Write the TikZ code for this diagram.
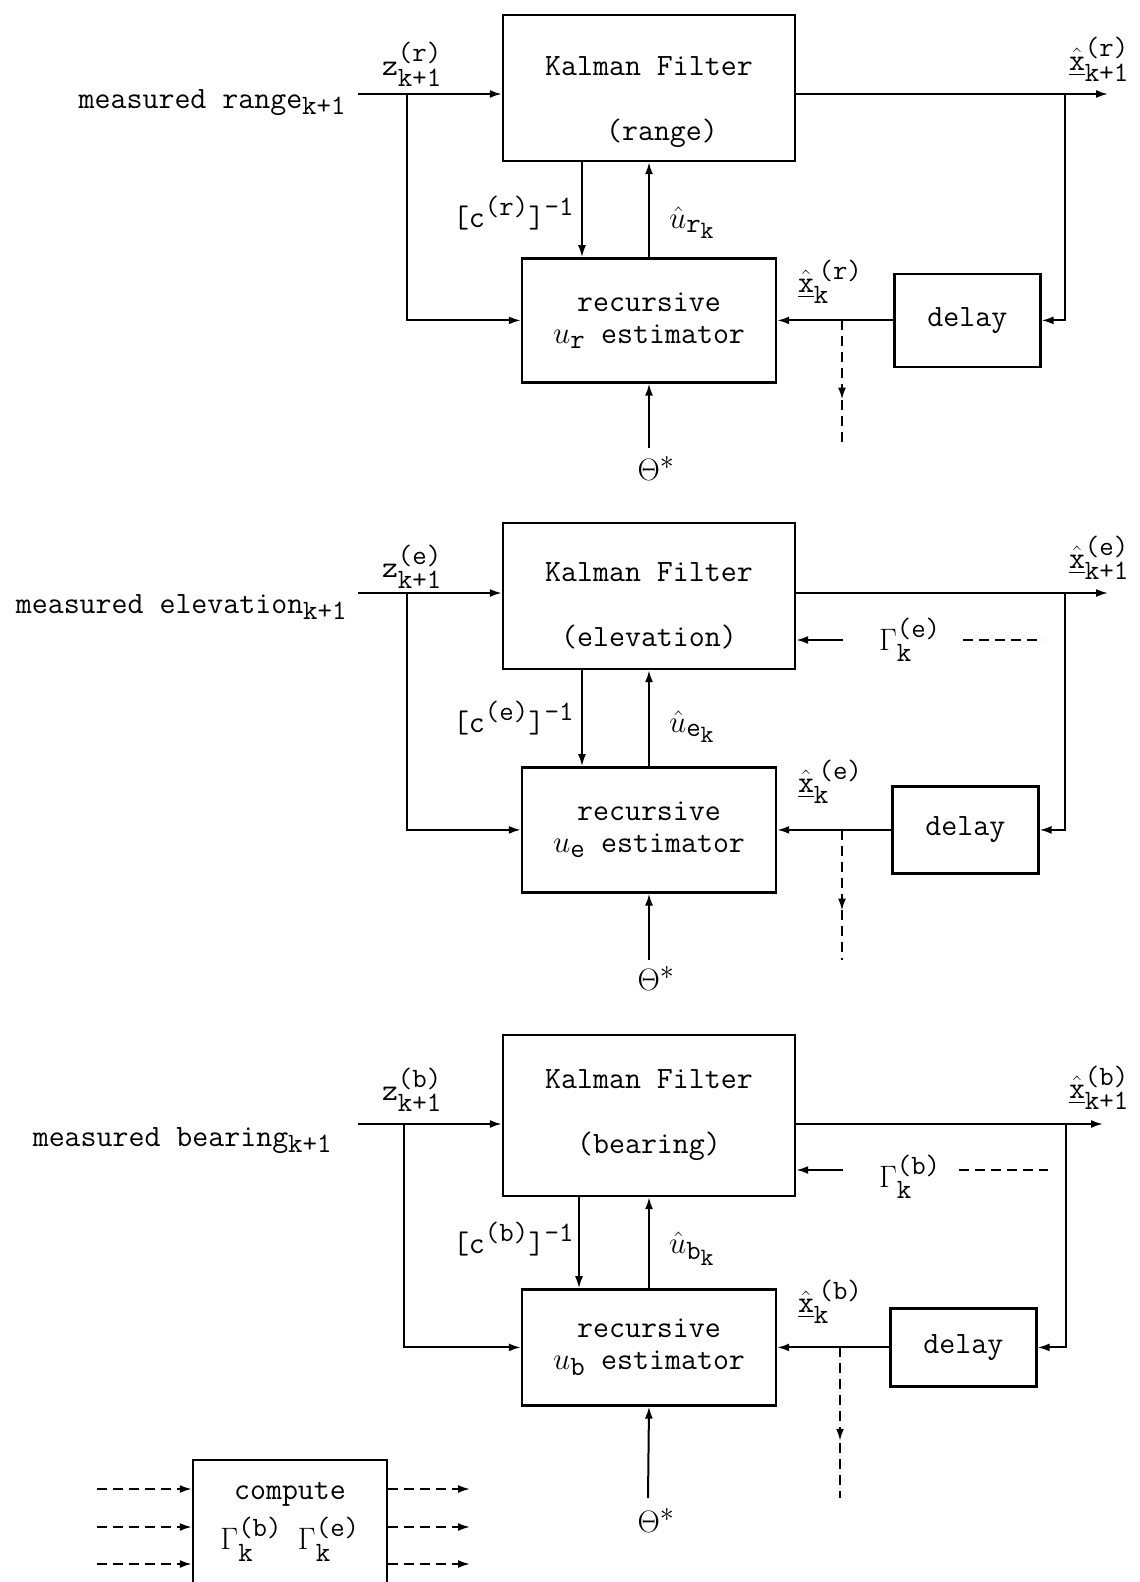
\RequirePackage{fix-cm}
\documentclass[tikz,border=0pt]{standalone}
\usepackage{amsmath, amssymb}
\usetikzlibrary{positioning, arrows.meta, calc, decorations.markings}
\DeclareMathSizes{31}{31}{28}{25}

\begin{document}
\begin{tikzpicture}[
    x=1pt, y=-1pt, line width=2pt,
    node distance=95pt and 115pt,
    every node/.style={font=\fontsize{31}{35}\selectfont\ttfamily},
    box/.style={draw, line width=2.4pt, align=center, inner sep=0pt},
    kalman/.style={box, minimum width=292pt},
    estim/.style={box, minimum width=254pt},
    delaybox/.style={box, minimum width=146pt},
    lbl/.style={inner sep=0pt},
    arr/.style={-{Latex[length=12pt, width=8pt]}},
    dashwire/.style={dash pattern=on 10pt off 6pt},
    midarr/.style={dashwire, decoration={markings,
        mark=at position 0.62 with {\arrow{Latex[length=12pt, width=8pt]}}},
        postaction=decorate}
  ]
    \useasboundingbox (0,0) rectangle (1140,1582);

    % range
    \node[kalman, minimum height=146pt] (kfr) at (649,88) {\rule{0pt}{48pt}Kalman Filter\\[30pt]\hspace*{26pt}(range)};
    \node[estim, minimum height=124pt, below=of kfr] (estr) {recursive\\[-3pt]$u_{\text{r}}$ estimator};
    \node[delaybox, minimum height=93pt, right=116pt of estr] (dlyr) {delay};

    \node[lbl, anchor=base east] (mrr) at (347,108) {measured range$_{\text{k+1}}$};
    \node[lbl, anchor=base west] (zr) at (381,75) {$\text{z}^{\text{(r)}}_{\text{k+1}}$};
    \node[lbl, anchor=base east] (cr) at (575,227) {$\text{[c}^{\text{(r)}}\text{]}^{\text{-1}}$};
    \node[lbl, anchor=base west] (ur) at (668,228) {$\hat{u}_{\text{r}_{\text{k}}}$};
    \node[lbl, anchor=base west] (xor) at (1068,70) {$\underline{\hat{\text{x}}}^{\text{(r)}}_{\text{k+1}}$};
    \node[lbl, anchor=base west] (xkr) at (797,292) {$\underline{\hat{\text{x}}}^{\,\text{(r)}}_{\text{k}}$};
    \node[lbl, anchor=north] (thlr) at (656,455) {$\Theta^{*}$};

    \coordinate (inr) at (358,94);
    \coordinate (brr) at (407,94);
    \coordinate (tapr) at (1065,94);
    \coordinate (outr) at (1108,94);
    \coordinate (dnr) at (842,448);
    \coordinate (thr) at (649,448);

    \draw[arr] (inr) -- (inr -| kfr.west);
    \draw[arr] (brr) |- (estr.west);
    \draw[arr] (kfr.east |- outr) -- (outr);
    \draw[arr] (tapr) |- (dlyr.east);
    \draw[arr] (dlyr.west) -- (estr.east);
    \draw[arr] ([xshift=-67pt]kfr.south) -- ([xshift=-67pt]estr.north);
    \draw[arr] (estr.north) -- (kfr.south);
    \draw[arr] (thr) -- (estr.south);
    \draw[midarr] (dnr |- estr.east) -- (dnr);

    % elevation
    \node[kalman, minimum height=146pt] (kfe) at (649,596) {\rule{0pt}{38pt}Kalman Filter\\[30pt](elevation)};
    \node[estim, minimum height=125pt, below=96pt of kfe] (este) {recursive\\[-3pt]$u_{\text{e}}$ estimator};
    \node[delaybox, minimum height=87pt, right=114pt of este] (dlye) {delay};

    \node[lbl, anchor=base east] (mre) at (348,613) {measured elevation$_{\text{k+1}}$};
    \node[lbl, anchor=base west] (ze) at (381,577) {$\text{z}^{\text{(e)}}_{\text{k+1}}$};
    \node[lbl, anchor=base east] (ce) at (575,732) {$\text{[c}^{\text{(e)}}\text{]}^{\text{-1}}$};
    \node[lbl, anchor=base west] (ue) at (668,732) {$\hat{u}_{\text{e}_{\text{k}}}$};
    \node[lbl, anchor=base west] (xoe) at (1068,568) {$\underline{\hat{\text{x}}}^{\text{(e)}}_{\text{k+1}}$};
    \node[lbl, anchor=base west] (xke) at (797,792) {$\underline{\hat{\text{x}}}^{\,\text{(e)}}_{\text{k}}$};
    \node[lbl, anchor=base west] (gme) at (878,650) {$\Gamma^{\text{(e)}}_{\text{k}}$};
    \node[lbl, anchor=north] (thle) at (656,965) {$\Theta^{*}$};

    \coordinate (ine) at (358,593);
    \coordinate (bre) at (407,593);
    \coordinate (tape) at (1065,593);
    \coordinate (oute) at (1108,593);
    \coordinate (dne) at (842,960);
    \coordinate (the) at (649,960);
    \coordinate (gae) at (843,640);
    \coordinate (gd1e) at (963,640);
    \coordinate (gd2e) at (1043,640);

    \draw[arr] (ine) -- (ine -| kfe.west);
    \draw[arr] (bre) |- (este.west);
    \draw[arr] (kfe.east |- oute) -- (oute);
    \draw[arr] (tape) |- (dlye.east);
    \draw[arr] (dlye.west) -- (este.east);
    \draw[arr] ([xshift=-67pt]kfe.south) -- ([xshift=-67pt]este.north);
    \draw[arr] (este.north) -- (kfe.south);
    \draw[arr] (the) -- (este.south);
    \draw[midarr] (dne |- este.east) -- (dne);
    \draw[arr] (gae) -- (gae -| kfe.east);
    \draw[dashwire] (gd1e) -- (gd2e);

    % bearing
    \node[kalman, minimum height=161pt] (kfb) at (649,1115.5) {Kalman Filter\\[30pt](bearing)};
    \node[estim, minimum height=116pt, below=91pt of kfb] (estb) {recursive\\[-3pt]$u_{\text{b}}$ estimator};
    \node[delaybox, minimum height=78pt, right=112pt of estb] (dlyb) {delay};

    \node[lbl, anchor=base east] (mrb) at (333,1146) {measured bearing$_{\text{k+1}}$};
    \node[lbl, anchor=base west] (zb) at (381,1100) {$\text{z}^{\text{(b)}}_{\text{k+1}}$};
    \node[lbl, anchor=base east] (cb) at (575,1253) {$\text{[c}^{\text{(b)}}\text{]}^{\text{-1}}$};
    \node[lbl, anchor=base west] (ub) at (668,1253) {$\hat{u}_{\text{b}_{\text{k}}}$};
    \node[lbl, anchor=base west] (xob) at (1068,1098) {$\underline{\hat{\text{x}}}^{\text{(b)}}_{\text{k+1}}$};
    \node[lbl, anchor=base west] (xkb) at (797,1312) {$\underline{\hat{\text{x}}}^{\,\text{(b)}}_{\text{k}}$};
    \node[lbl, anchor=base west] (gmb) at (878,1187) {$\Gamma^{\text{(b)}}_{\text{k}}$};
    \node[lbl, anchor=north] (thlb) at (656,1507) {$\Theta^{*}$};

    \coordinate (inb) at (358,1124);
    \coordinate (brb) at (404,1124);
    \coordinate (tapb) at (1066,1124);
    \coordinate (outb) at (1103,1124);
    \coordinate (dnb) at (840,1498);
    \coordinate (thb) at (648,1498);
    \coordinate (gab) at (843,1170);
    \coordinate (gd1b) at (959,1170);
    \coordinate (gd2b) at (1048,1170);

    \draw[arr] (inb) -- (inb -| kfb.west);
    \draw[arr] (brb) |- (estb.west);
    \draw[arr] (kfb.east |- outb) -- (outb);
    \draw[arr] (tapb) |- (dlyb.east);
    \draw[arr] (dlyb.west) -- (estb.east);
    \draw[arr] ([xshift=-70pt]kfb.south) -- ([xshift=-70pt]estb.north);
    \draw[arr] (estb.north) -- (kfb.south);
    \draw[arr] (thb) -- (estb.south);
    \draw[midarr] (dnb |- estb.east) -- (dnb);
    \draw[arr] (gab) -- (gab -| kfb.east);
    \draw[dashwire] (gd1b) -- (gd2b);

    % compute box, runs off the page
    \node[box, anchor=north, minimum width=194pt, inner xsep=10pt, inner ysep=22pt, text depth=130pt] (comp) at (290,1459)
        {compute\\[10pt]$\Gamma^{\text{(b)}}_{\text{k}}\ \Gamma^{\text{(e)}}_{\text{k}}$};

    \coordinate (ci1) at (97,1489);
    \coordinate (ci2) at (97,1527);
    \coordinate (ci3) at (97,1564);
    \coordinate (co1) at (470,1489);
    \coordinate (co2) at (470,1527);
    \coordinate (co3) at (470,1564);

    \draw[dashwire, arr] (ci1) -- (ci1 -| comp.west);
    \draw[dashwire, arr] (ci2) -- (ci2 -| comp.west);
    \draw[dashwire, arr] (ci3) -- (ci3 -| comp.west);
    \draw[dashwire, arr] (comp.east |- co1) -- (co1);
    \draw[dashwire, arr] (comp.east |- co2) -- (co2);
    \draw[dashwire, arr] (comp.east |- co3) -- (co3);
\end{tikzpicture}
\end{document}
